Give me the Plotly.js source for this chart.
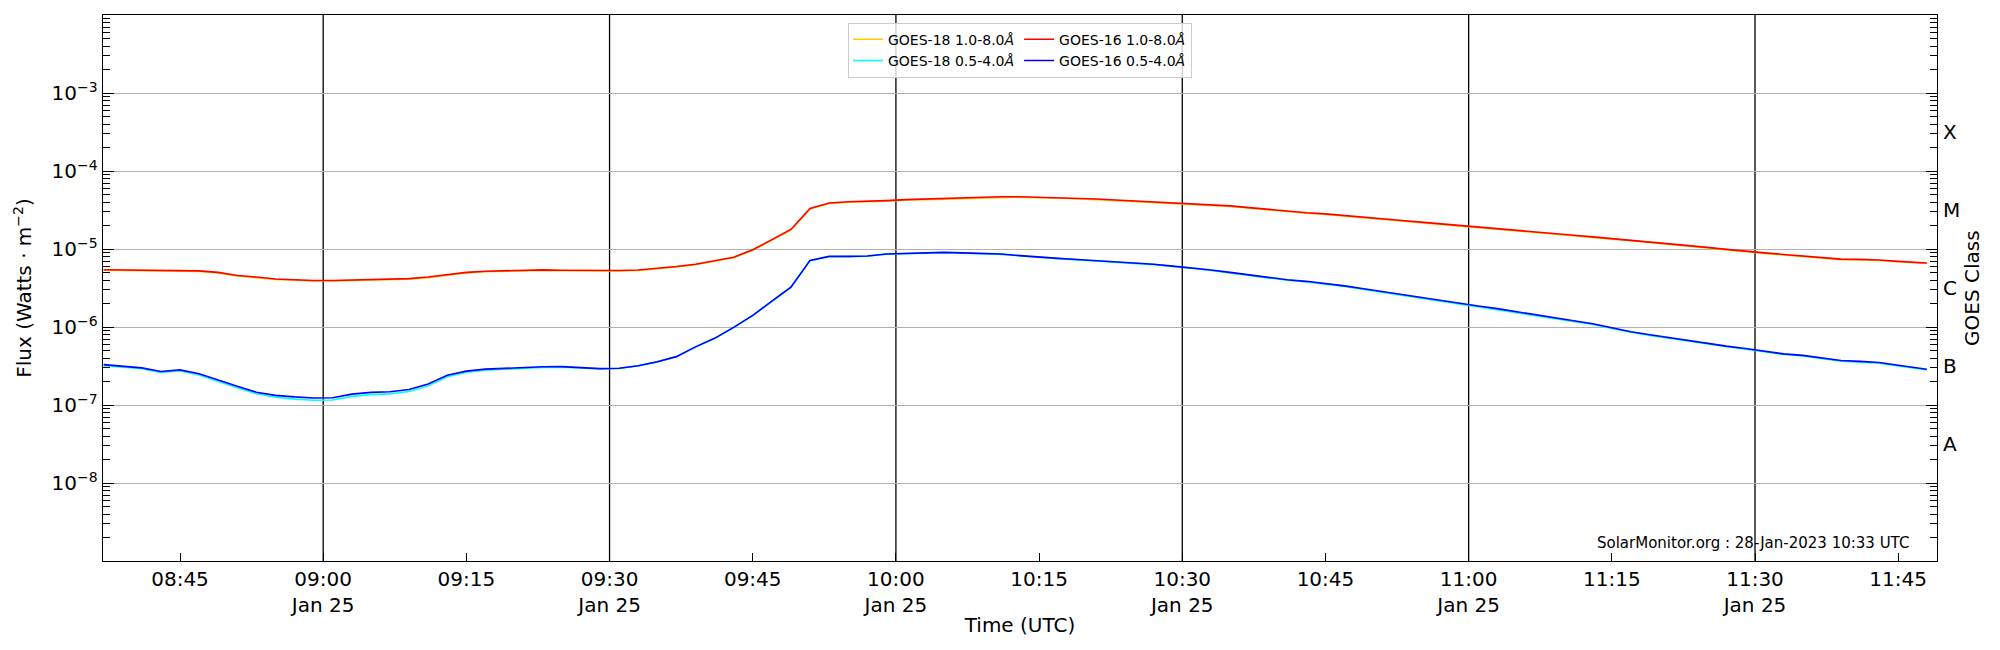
<!DOCTYPE html>
<html>
<head>
<meta charset="utf-8">
<script src="https://cdn.plot.ly/plotly-3.0.1.min.js"></script>
<style>
  html, body { margin: 0; padding: 0; background: #ffffff; }
  #chart { width: 2000px; height: 650px; }
</style>
</head>
<body>
<div id="chart"></div>
<script>
const day = "2023-01-25";

// sample times (UTC)
const sampleTimes = [
  "08:37", "08:39", "08:41", "08:43", "08:45", "08:47", "08:49", "08:51", "08:53", "08:55", "08:57", "08:59",
  "09:01", "09:03", "09:05", "09:07", "09:09", "09:11", "09:13", "09:15", "09:17", "09:19", "09:21", "09:23",
  "09:25", "09:27", "09:29", "09:31", "09:33", "09:35", "09:37", "09:39", "09:41", "09:43", "09:45", "09:47",
  "09:49", "09:51", "09:53", "09:55", "09:57", "09:59", "10:01", "10:03", "10:05", "10:07", "10:09", "10:11",
  "10:13", "10:15", "10:17", "10:19", "10:21", "10:23", "10:25", "10:27", "10:29", "10:31", "10:33", "10:35",
  "10:37", "10:39", "10:41", "10:43", "10:45", "10:47", "10:49", "10:51", "10:53", "10:55", "10:57", "10:59",
  "11:01", "11:03", "11:05", "11:07", "11:09", "11:11", "11:13", "11:15", "11:17", "11:19", "11:21", "11:23",
  "11:25", "11:27", "11:29", "11:31", "11:33", "11:35", "11:37", "11:39", "11:41", "11:43", "11:45", "11:48",
];

// flux in W m^-2
const goes18Long = [
  5.36e-6, 5.33e-6, 5.29e-6, 5.20e-6, 5.27e-6, 5.17e-6, 4.94e-6, 4.50e-6, 4.30e-6, 4.06e-6, 3.97e-6, 3.88e-6,
  3.88e-6, 3.94e-6, 3.97e-6, 4.01e-6, 4.11e-6, 4.30e-6, 4.66e-6, 4.94e-6, 5.11e-6, 5.19e-6, 5.27e-6, 5.32e-6,
  5.27e-6, 5.23e-6, 5.19e-6, 5.23e-6, 5.29e-6, 5.54e-6, 5.87e-6, 6.28e-6, 6.90e-6, 7.73e-6, 9.62e-6, 1.30e-5,
  1.75e-5, 3.26e-5, 3.83e-5, 3.97e-5, 4.01e-5, 4.11e-5, 4.23e-5, 4.30e-5, 4.38e-5, 4.45e-5, 4.55e-5, 4.61e-5,
  4.61e-5, 4.55e-5, 4.50e-5, 4.40e-5, 4.30e-5, 4.19e-5, 4.06e-5, 3.95e-5, 3.83e-5, 3.74e-5, 3.66e-5, 3.52e-5,
  3.34e-5, 3.16e-5, 2.98e-5, 2.88e-5, 2.78e-5, 2.66e-5, 2.53e-5, 2.41e-5, 2.29e-5, 2.18e-5, 2.07e-5, 1.97e-5,
  1.88e-5, 1.77e-5, 1.69e-5, 1.62e-5, 1.55e-5, 1.48e-5, 1.41e-5, 1.34e-5, 1.28e-5, 1.21e-5, 1.14e-5, 1.08e-5,
  1.03e-5, 9.74e-6, 9.19e-6, 8.78e-6, 8.38e-6, 8.01e-6, 7.56e-6, 7.30e-6, 7.25e-6, 7.13e-6, 6.85e-6, 6.51e-6,
];

const goes18Short = [
  3.20e-7, 3.08e-7, 2.92e-7, 2.62e-7, 2.74e-7, 2.43e-7, 2.00e-7, 1.67e-7, 1.39e-7, 1.26e-7, 1.19e-7, 1.15e-7,
  1.16e-7, 1.29e-7, 1.36e-7, 1.39e-7, 1.49e-7, 1.76e-7, 2.30e-7, 2.63e-7, 2.79e-7, 2.88e-7, 2.96e-7, 3.03e-7,
  3.05e-7, 2.98e-7, 2.90e-7, 2.94e-7, 3.16e-7, 3.57e-7, 4.14e-7, 5.52e-7, 7.11e-7, 9.83e-7, 1.40e-6, 2.12e-6,
  3.21e-6, 7.06e-6, 7.96e-6, 7.98e-6, 8.07e-6, 8.55e-6, 8.75e-6, 8.95e-6, 8.99e-6, 8.84e-6, 8.72e-6, 8.54e-6,
  8.15e-6, 7.78e-6, 7.52e-6, 7.26e-6, 7.01e-6, 6.85e-6, 6.61e-6, 6.31e-6, 5.96e-6, 5.69e-6, 5.31e-6, 4.95e-6,
  4.62e-6, 4.31e-6, 3.97e-6, 3.79e-6, 3.58e-6, 3.32e-6, 3.04e-6, 2.79e-6, 2.55e-6, 2.34e-6, 2.15e-6, 1.97e-6,
  1.83e-6, 1.69e-6, 1.55e-6, 1.42e-6, 1.30e-6, 1.18e-6, 1.08e-6, 9.60e-7, 8.55e-7, 7.80e-7, 7.16e-7, 6.56e-7,
  6.06e-7, 5.59e-7, 5.21e-7, 4.81e-7, 4.44e-7, 4.25e-7, 3.90e-7, 3.64e-7, 3.55e-7, 3.44e-7, 3.17e-7, 2.81e-7,
];

const goes16Long = [
  5.43e-6, 5.41e-6, 5.37e-6, 5.28e-6, 5.35e-6, 5.25e-6, 5.01e-6, 4.57e-6, 4.37e-6, 4.12e-6, 4.03e-6, 3.94e-6,
  3.94e-6, 4.00e-6, 4.03e-6, 4.07e-6, 4.17e-6, 4.37e-6, 4.73e-6, 5.01e-6, 5.19e-6, 5.27e-6, 5.35e-6, 5.40e-6,
  5.35e-6, 5.31e-6, 5.27e-6, 5.31e-6, 5.37e-6, 5.62e-6, 5.96e-6, 6.38e-6, 7.00e-6, 7.85e-6, 9.77e-6, 1.32e-5,
  1.78e-5, 3.31e-5, 3.89e-5, 4.03e-5, 4.07e-5, 4.17e-5, 4.29e-5, 4.37e-5, 4.45e-5, 4.52e-5, 4.62e-5, 4.68e-5,
  4.68e-5, 4.62e-5, 4.57e-5, 4.47e-5, 4.37e-5, 4.25e-5, 4.12e-5, 4.01e-5, 3.89e-5, 3.80e-5, 3.72e-5, 3.57e-5,
  3.39e-5, 3.21e-5, 3.03e-5, 2.92e-5, 2.82e-5, 2.70e-5, 2.57e-5, 2.45e-5, 2.32e-5, 2.21e-5, 2.10e-5, 2.00e-5,
  1.91e-5, 1.80e-5, 1.72e-5, 1.64e-5, 1.57e-5, 1.50e-5, 1.43e-5, 1.36e-5, 1.30e-5, 1.23e-5, 1.16e-5, 1.10e-5,
  1.05e-5, 9.89e-6, 9.33e-6, 8.91e-6, 8.51e-6, 8.13e-6, 7.67e-6, 7.41e-6, 7.36e-6, 7.24e-6, 6.95e-6, 6.61e-6,
];

const goes16Short = [
  3.29e-7, 3.16e-7, 2.99e-7, 2.69e-7, 2.82e-7, 2.51e-7, 2.07e-7, 1.74e-7, 1.46e-7, 1.33e-7, 1.27e-7, 1.23e-7,
  1.24e-7, 1.38e-7, 1.45e-7, 1.48e-7, 1.58e-7, 1.86e-7, 2.40e-7, 2.72e-7, 2.88e-7, 2.96e-7, 3.03e-7, 3.09e-7,
  3.10e-7, 3.02e-7, 2.93e-7, 2.96e-7, 3.18e-7, 3.59e-7, 4.17e-7, 5.56e-7, 7.16e-7, 9.89e-7, 1.41e-6, 2.14e-6,
  3.24e-6, 7.14e-6, 8.04e-6, 8.04e-6, 8.13e-6, 8.61e-6, 8.81e-6, 9.02e-6, 9.06e-6, 8.91e-6, 8.79e-6, 8.61e-6,
  8.22e-6, 7.85e-6, 7.59e-6, 7.33e-6, 7.08e-6, 6.92e-6, 6.68e-6, 6.38e-6, 6.03e-6, 5.75e-6, 5.37e-6, 5.01e-6,
  4.68e-6, 4.37e-6, 4.03e-6, 3.85e-6, 3.63e-6, 3.37e-6, 3.09e-6, 2.83e-6, 2.59e-6, 2.38e-6, 2.18e-6, 2.00e-6,
  1.86e-6, 1.72e-6, 1.58e-6, 1.45e-6, 1.32e-6, 1.20e-6, 1.10e-6, 9.77e-7, 8.71e-7, 7.94e-7, 7.29e-7, 6.68e-7,
  6.17e-7, 5.69e-7, 5.31e-7, 4.90e-7, 4.52e-7, 4.33e-7, 3.98e-7, 3.72e-7, 3.63e-7, 3.51e-7, 3.24e-7, 2.88e-7,
];

// axes
const xTickTimes = ["08:45", "09:00", "09:15", "09:30", "09:45", "10:00", "10:15", "10:30", "10:45", "11:00", "11:15", "11:30", "11:45"];
const xTickLabels = ["08:45", "09:00<br>Jan 25", "09:15", "09:30<br>Jan 25", "09:45", "10:00<br>Jan 25", "10:15",
  "10:30<br>Jan 25", "10:45", "11:00<br>Jan 25", "11:15", "11:30<br>Jan 25", "11:45"];
const xGridTimes = ["09:00", "09:30", "10:00", "10:30", "11:00", "11:30"];
const xRange = ["08:36:56", "11:49:04"];

const yTickVals = [1e-8, 1e-7, 1e-6, 1e-5, 1e-4, 1e-3];
const yTickLabels = ["10<sup>−8</sup>", "10<sup>−7</sup>", "10<sup>−6</sup>", "10<sup>−5</sup>", "10<sup>−4</sup>", "10<sup>−3</sup>"];
const classVals = [3.16e-8, 3.16e-7, 3.16e-6, 3.16e-5, 3.16e-4];
const classLabels = ["A", "B", "C", "M", "X"];

const stamp = (hm) => `${day} ${hm}`;
const times = sampleTimes.map(stamp);
const font = "DejaVu Sans, Verdana, sans-serif";

function lineTrace(name, values, color, group) {
  return {
    x: times,
    y: values,
    type: "scatter",
    mode: "lines",
    name,
    legendgroup: group,
    line: { color, width: 1.6 },
    hoverinfo: "skip",
  };
}

const traces = [
  lineTrace("GOES-18 1.0-8.0<i>Å</i>", goes18Long, "#ffcc00", "g18"),
  lineTrace("GOES-18 0.5-4.0<i>Å</i>", goes18Short, "#00ffff", "g18"),
  lineTrace("GOES-16 1.0-8.0<i>Å</i>", goes16Long, "#ff0000", "g16"),
  lineTrace("GOES-16 0.5-4.0<i>Å</i>", goes16Short, "#0000ff", "g16"),
];

// black half-hour grid lines
const gridShapes = xGridTimes.map((hm) => ({
  type: "line",
  xref: "x",
  yref: "paper",
  x0: stamp(hm),
  x1: stamp(hm),
  y0: 0,
  y1: 1,
  layer: "below",
  line: { color: "#000000", width: 1.3 },
}));

// GOES class letters on the right side
const classAnnotations = classVals.map((value, i) => ({
  text: classLabels[i],
  xref: "paper",
  yref: "y",
  x: 1,
  y: Math.log10(value),
  xanchor: "left",
  yanchor: "middle",
  xshift: 4,
  showarrow: false,
  font: { family: font, size: 20, color: "#000000" },
}));

const layout = {
  width: 2000,
  height: 650,
  margin: { l: 103, r: 63, t: 15, b: 89 },
  paper_bgcolor: "#ffffff",
  plot_bgcolor: "#ffffff",
  font: { family: font, color: "#000000", size: 20 },
  showlegend: true,
  legend: {
    orientation: "h",
    traceorder: "grouped",
    x: 0.5,
    xanchor: "center",
    y: 0.986,
    yanchor: "top",
    bgcolor: "rgba(255,255,255,0.8)",
    bordercolor: "#cccccc",
    borderwidth: 1,
    font: { family: font, size: 14, color: "#000000" },
  },
  xaxis: {
    type: "date",
    range: xRange.map(stamp),
    tickvals: xTickTimes.map(stamp),
    ticktext: xTickLabels,
    ticks: "inside",
    ticklen: 8,
    tickwidth: 1,
    tickcolor: "#000000",
    showgrid: false,
    zeroline: false,
    showline: true,
    linecolor: "#000000",
    linewidth: 1.3,
    mirror: true,
    tickfont: { family: font, size: 20 },
    title: { text: "Time (UTC)", font: { family: font, size: 20 }, standoff: 1 },
  },
  yaxis: {
    type: "log",
    range: [-9, -2],
    tickvals: yTickVals,
    ticktext: yTickLabels,
    ticks: "inside",
    ticklen: 11,
    tickwidth: 1,
    tickcolor: "#000000",
    showgrid: true,
    gridcolor: "#b0b0b0",
    gridwidth: 1,
    zeroline: false,
    showline: true,
    linecolor: "#000000",
    linewidth: 1.3,
    mirror: "allticks",
    minor: { ticks: "inside", ticklen: 7, tickwidth: 1, tickcolor: "#000000", dtick: "D1", showgrid: false },
    tickfont: { family: font, size: 20 },
    title: { text: "Flux (Watts · m<sup>−2</sup>)", font: { family: font, size: 20 }, standoff: 14 },
  },
  shapes: gridShapes,
  annotations: [
    ...classAnnotations,
    {
      text: "GOES Class",
      xref: "paper",
      yref: "paper",
      x: 1,
      y: 0.5,
      xanchor: "center",
      yanchor: "middle",
      xshift: 35,
      textangle: -90,
      showarrow: false,
      font: { family: font, size: 20, color: "#000000" },
    },
    {
      text: "SolarMonitor.org : 28-Jan-2023 10:33 UTC",
      xref: "paper",
      yref: "paper",
      x: 0.986,
      y: 0.033,
      xanchor: "right",
      yanchor: "middle",
      showarrow: false,
      font: { family: font, size: 15, color: "#000000" },
    },
  ],
};

Plotly.newPlot("chart", traces, layout, { displayModeBar: false, staticPlot: true });
</script>
</body>
</html>
